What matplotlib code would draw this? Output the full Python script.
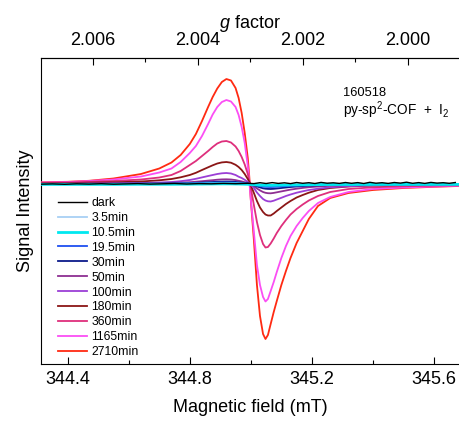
import matplotlib
matplotlib.use("Agg")
import matplotlib.pyplot as plt

plt.rcParams['font.family'] = ['Liberation Sans', 'DejaVu Sans']
plt.rcParams['mathtext.fontset'] = 'custom'
plt.rcParams['mathtext.rm'] = 'Liberation Sans'
plt.rcParams['mathtext.it'] = 'Liberation Sans:italic'

# ---- data ----
field = [344.31, 344.40, 344.47, 344.55, 344.64, 344.70, 344.74, 344.77, 344.80, 344.82,
         344.84, 344.86, 344.875, 344.89, 344.905, 344.92, 344.935, 344.95, 344.96, 344.97,
         344.98, 344.99, 344.995, 345.00, 345.01, 345.02, 345.03, 345.04, 345.048, 345.056,
         345.065, 345.075, 345.085, 345.10, 345.115, 345.13, 345.15, 345.17, 345.19, 345.22,
         345.26, 345.32, 345.40, 345.50, 345.60, 345.68]

sig_3_5 = [0.0, 0.0, 0.0, 0.0, 0.001, 0.001, 0.001, 0.002, 0.002, 0.003,
           0.003, 0.004, 0.005, 0.005, 0.006, 0.006, 0.006, 0.005, 0.004, 0.003,
           0.002, 0.001, 0.0, -0.001, -0.003, -0.005, -0.007, -0.008, -0.009, -0.01,
           -0.01, -0.009, -0.009, -0.008, -0.007, -0.006, -0.005, -0.004, -0.004, -0.003,
           -0.002, -0.002, -0.001, -0.001, 0.0, 0.0]
sig_10_5 = [-0.004, -0.004, -0.004, -0.004, -0.003, -0.003, -0.003, -0.002, -0.002, -0.001,
            -0.001, 0.0, 0.0, 0.001, 0.001, 0.001, 0.001, 0.0, 0.0, -0.001,
            -0.002, -0.003, -0.004, -0.005, -0.007, -0.009, -0.011, -0.012, -0.013, -0.013,
            -0.013, -0.013, -0.012, -0.011, -0.010, -0.009, -0.009, -0.008, -0.007, -0.006,
            -0.005, -0.005, -0.004, -0.004, -0.004, -0.004]
sig_19_5 = [0.0, 0.0, 0.001, 0.001, 0.002, 0.002, 0.003, 0.004, 0.006, 0.007,
            0.009, 0.011, 0.012, 0.014, 0.015, 0.015, 0.014, 0.012, 0.01, 0.008,
            0.006, 0.003, 0.001, -0.001, -0.007, -0.014, -0.02, -0.026, -0.028, -0.029,
            -0.03, -0.029, -0.027, -0.024, -0.021, -0.018, -0.015, -0.013, -0.01, -0.008,
            -0.006, -0.004, -0.002, -0.002, -0.001, -0.001]
sig_30 = [0.0, 0.001, 0.001, 0.002, 0.003, 0.004, 0.005, 0.007, 0.01, 0.012,
          0.015, 0.018, 0.02, 0.023, 0.024, 0.025, 0.024, 0.021, 0.017, 0.014,
          0.01, 0.005, 0.002, -0.002, -0.012, -0.024, -0.034, -0.043, -0.047, -0.049,
          -0.05, -0.048, -0.045, -0.04, -0.035, -0.03, -0.025, -0.021, -0.017, -0.013,
          -0.01, -0.006, -0.004, -0.003, -0.002, -0.001]
sig_50 = [0.001, 0.001, 0.002, 0.003, 0.005, 0.007, 0.01, 0.013, 0.018, 0.023,
          0.028, 0.034, 0.038, 0.043, 0.046, 0.047, 0.045, 0.039, 0.032, 0.026,
          0.018, 0.009, 0.003, -0.003, -0.022, -0.045, -0.064, -0.08, -0.088, -0.092,
          -0.093, -0.089, -0.083, -0.074, -0.065, -0.056, -0.047, -0.039, -0.032, -0.025,
          -0.018, -0.012, -0.007, -0.005, -0.003, -0.002]
sig_100 = [0.002, 0.003, 0.005, 0.007, 0.01, 0.015, 0.02, 0.028, 0.04, 0.052,
           0.066, 0.08, 0.09, 0.10, 0.107, 0.11, 0.105, 0.09, 0.073, 0.06,
           0.042, 0.02, 0.007, -0.005, -0.04, -0.085, -0.12, -0.15, -0.165, -0.173,
           -0.175, -0.167, -0.155, -0.138, -0.12, -0.105, -0.087, -0.073, -0.06, -0.047,
           -0.033, -0.022, -0.013, -0.009, -0.006, -0.004]
sig_180 = [0.005, 0.008, 0.013, 0.017, 0.025, 0.037, 0.05, 0.067, 0.09, 0.112,
           0.14, 0.167, 0.187, 0.205, 0.216, 0.22, 0.213, 0.192, 0.17, 0.14,
           0.10, 0.05, 0.02, -0.01, -0.09, -0.17, -0.235, -0.28, -0.305, -0.315,
           -0.315, -0.295, -0.27, -0.235, -0.20, -0.17, -0.135, -0.11, -0.087, -0.06,
           -0.04, -0.025, -0.015, -0.01, -0.007, -0.005]
sig_360 = [0.01, 0.015, 0.022, 0.03, 0.045, 0.065, 0.09, 0.13, 0.19, 0.23,
           0.28, 0.33, 0.37, 0.405, 0.425, 0.43, 0.415, 0.375, 0.33, 0.27,
           0.195, 0.10, 0.03, -0.04, -0.21, -0.38, -0.51, -0.60, -0.635, -0.63,
           -0.595, -0.545, -0.49, -0.42, -0.36, -0.305, -0.25, -0.205, -0.165, -0.12,
           -0.08, -0.05, -0.033, -0.023, -0.017, -0.014]
sig_1165 = [0.015, 0.02, 0.03, 0.045, 0.075, 0.115, 0.155, 0.22, 0.31, 0.38,
            0.48, 0.60, 0.695, 0.77, 0.82, 0.84, 0.825, 0.77, 0.69, 0.57,
            0.41, 0.18, 0.03, -0.16, -0.48, -0.81, -1.01, -1.13, -1.175, -1.15,
            -1.07, -0.98, -0.88, -0.74, -0.62, -0.52, -0.42, -0.34, -0.27, -0.19,
            -0.13, -0.08, -0.05, -0.035, -0.025, -0.018]
sig_2710 = [0.017, 0.022, 0.032, 0.055, 0.10, 0.155, 0.215, 0.29, 0.40, 0.50,
            0.63, 0.77, 0.87, 0.955, 1.02, 1.05, 1.035, 0.96, 0.86, 0.71,
            0.51, 0.26, 0.07, -0.16, -0.56, -1.01, -1.32, -1.50, -1.55, -1.51,
            -1.40, -1.28, -1.17, -1.01, -0.87, -0.74, -0.59, -0.47, -0.35, -0.22,
            -0.14, -0.09, -0.06, -0.04, -0.028, -0.02]

dark_field = [344.31, 344.35, 344.39, 344.43, 344.47, 344.51, 344.55, 344.59, 344.63, 344.67,
              344.71, 344.75, 344.79, 344.83, 344.87, 344.91, 344.95, 344.99, 345.01, 345.03,
              345.05, 345.07, 345.09, 345.11, 345.13, 345.15, 345.17, 345.19, 345.21, 345.23,
              345.25, 345.27, 345.29, 345.31, 345.33, 345.35, 345.37, 345.39, 345.41, 345.43,
              345.45, 345.47, 345.49, 345.51, 345.53, 345.55, 345.57, 345.59, 345.61, 345.63,
              345.65, 345.67]
dark_signal = [-0.002, 0.001, -0.003, 0.002, -0.001, 0.003, -0.002, 0.001, 0.004, -0.001,
               0.002, 0.005, 0.0, 0.004, 0.002, 0.006, 0.003, 0.007, 0.004, 0.013,
               0.005, 0.014, 0.006, 0.012, 0.004, 0.015, 0.007, 0.013, 0.005, 0.016,
               0.008, 0.012, 0.006, 0.015, 0.007, 0.014, 0.005, 0.017, 0.008, 0.013,
               0.006, 0.015, 0.009, 0.018, 0.007, 0.014, 0.006, 0.016, 0.009, 0.013,
               0.007, 0.015]

labels = ['dark', '3.5min', '10.5min', '19.5min', '30min', '50min', '100min', '180min',
          '360min', '1165min', '2710min']
colors = ['#000000', '#a8d0f4', '#00e8f0', '#1f4ff0', '#0c1a8a', '#8e2f92', '#9b3fd6',
          '#8b1616', '#de2f7c', '#fb4ef4', '#ff2a12']

g_major = [2.006, 2.004, 2.002, 2.000]
g_minor = [2.005, 2.003, 2.001]
C_FIELD_G = 691.03  # h*nu/mu_B in mT

series = [(dark_field, dark_signal), (field, sig_3_5), (field, sig_10_5), (field, sig_19_5),
          (field, sig_30), (field, sig_50), (field, sig_100), (field, sig_180), (field, sig_360),
          (field, sig_1165), (field, sig_2710)]

fig = plt.figure(figsize=(4.59, 4.21), dpi=100)
ax = fig.add_axes([0.0893, 0.1354, 0.9107, 0.728])

n = len(series)
for i, ((fx, fy), lab, col) in enumerate(zip(series, labels, colors)):
    lw = 1.3
    z = 10 + (n - i)
    if lab == '10.5min':
        lw = 2.0
        z = 30
    if lab == 'dark':
        lw = 1.0
        z = 31
    ax.plot(fx, fy, color=col, lw=lw, label=lab, zorder=z)

ax.set_xlim(344.3125, 345.682)
ax.set_ylim(-1.80, 1.265)
ax.set_yticks([])
ax.set_xticks([344.4, 344.8, 345.2, 345.6])
ax.set_xticks([344.6, 345.0, 345.4], minor=True)
ax.tick_params(axis='x', which='major', direction='in', length=5, width=0.8, labelsize=13, pad=5)
ax.tick_params(axis='x', which='minor', direction='in', length=3, width=0.8)
ax.spines['right'].set_visible(False)
for s in ['left', 'top', 'bottom']:
    ax.spines[s].set_linewidth(0.8)
ax.set_xlabel('Magnetic field (mT)', fontsize=13, labelpad=8)
ax.set_ylabel('Signal Intensity', fontsize=13, labelpad=5)

sec = ax.secondary_xaxis('top', functions=(lambda b: C_FIELD_G / b, lambda g: C_FIELD_G / g))
sec.set_xticks(g_major)
sec.set_xticks(g_minor, minor=True)
sec.set_xticklabels(['%.3f' % v for v in g_major])
sec.tick_params(axis='x', which='major', direction='in', length=5, width=0.8, labelsize=13, pad=6)
sec.tick_params(axis='x', which='minor', direction='in', length=3, width=0.8)
sec.set_xlabel('$g$ factor', fontsize=13, labelpad=3)
sec.spines['top'].set_linewidth(0.8)

ax.text(0.7225, 0.884, '160518', transform=ax.transAxes, fontsize=9.3, va='center', ha='left')
ax.text(0.7225, 0.829, 'py-sp$^2$-COF  +  I$_2$', transform=ax.transAxes, fontsize=9.8,
        va='center', ha='left')

ax.legend(loc='upper left', bbox_to_anchor=(0.04, 0.545), frameon=False, fontsize=8.8,
          handlelength=2.4, handletextpad=0.35, labelspacing=0.24, borderpad=0,
          borderaxespad=0)

fig.savefig('out.png', dpi=100)
